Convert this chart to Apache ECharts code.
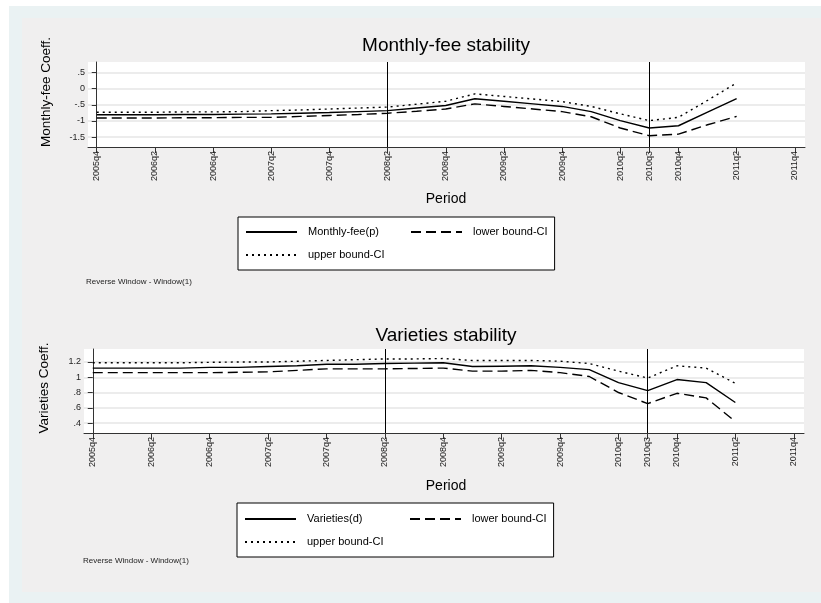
<!DOCTYPE html>
<html><head><meta charset="utf-8">
<script src="https://cdn.jsdelivr.net/npm/echarts@6/dist/echarts.min.js"></script>
<style>html,body{margin:0;padding:0;background:#fff}#c{width:821px;height:603px}</style>
</head><body><div id="c"></div><script>
// ---- data ----
const quarters = ['2005q4','2006q1','2006q2','2006q3','2006q4','2007q1','2007q2','2007q3','2007q4',
  '2008q1','2008q2','2008q3','2008q4','2009q1','2009q2','2009q3','2009q4','2010q1','2010q2','2010q3',
  '2010q4','2011q1','2011q2','2011q3','2011q4'];
const periods = ['2005q4','2006q1','2006q2','2006q3','2006q4','2007q1','2007q2','2007q3','2007q4',
  '2008q1','2008q2','2008q3','2008q4','2009q1','2009q2','2009q3','2009q4','2010q1','2010q2','2010q3',
  '2010q4','2011q1','2011q2'];
const xTickLabels = ['2005q4','2006q2','2006q4','2007q2','2007q4','2008q2','2008q4','2009q2','2009q4',
  '2010q2','2010q3','2010q4','2011q2','2011q4'];
const refPeriods = ['2008q2','2010q3'];

const feeCoef  = [-0.81,-0.81,-0.81,-0.80,-0.80,-0.79,-0.78,-0.76,-0.74,-0.71,-0.68,-0.60,-0.52,-0.31,-0.39,-0.47,-0.55,-0.71,-0.99,-1.22,-1.15,-0.73,-0.31];
const feeLower = [-0.91,-0.91,-0.91,-0.90,-0.90,-0.89,-0.89,-0.86,-0.83,-0.80,-0.76,-0.70,-0.63,-0.47,-0.55,-0.63,-0.71,-0.87,-1.22,-1.46,-1.41,-1.12,-0.86];
const feeUpper = [-0.73,-0.73,-0.73,-0.72,-0.72,-0.71,-0.68,-0.66,-0.63,-0.60,-0.57,-0.48,-0.39,-0.16,-0.24,-0.32,-0.40,-0.55,-0.78,-0.99,-0.89,-0.36,0.18];

const varCoef  = [1.12,1.12,1.12,1.12,1.13,1.13,1.14,1.15,1.17,1.17,1.18,1.185,1.19,1.14,1.145,1.15,1.13,1.10,0.93,0.825,0.97,0.93,0.67];
const varLower = [1.06,1.06,1.06,1.06,1.06,1.065,1.07,1.09,1.11,1.11,1.11,1.115,1.12,1.08,1.08,1.09,1.06,1.01,0.80,0.655,0.79,0.73,0.42];
const varUpper = [1.19,1.19,1.19,1.19,1.195,1.20,1.20,1.21,1.22,1.23,1.24,1.24,1.245,1.22,1.22,1.22,1.21,1.18,1.08,0.99,1.15,1.12,0.92];

const feeYTicks = [-1.5,-1,-0.5,0,0.5];
const varYTicks = [0.4,0.6,0.8,1,1.2];

// ---- helpers ----
const qi = p => quarters.indexOf(p);
const xTickVals = xTickLabels.map(qi);
const stataNum = v => String(+v.toFixed(2)).replace(/^(-?)0\./,'$1.');
const pts = vals => periods.map((p,i)=>[qi(p), vals[i]]);

const FONT = 'Liberation Sans, Arial, sans-serif';
const styles = {
  solid: {color:'#000', width:1.4, type:'solid'},
  dash:  {color:'#000', width:1.4, type:[10,5]},
  dot:   {color:'#000', width:1.4, type:[2,4]}
};

function xAxis(gi){
  return {
    type:'value', gridIndex:gi, min:-0.3, max:24.35,
    axisLine:{show:true, onZero:false, lineStyle:{color:'#333', width:1}},
    axisTick:{show:true, inside:false, length:6, customValues:xTickVals, lineStyle:{color:'#333'}},
    axisLabel:{customValues:xTickVals, rotate:90, fontSize:9, margin:4, color:'#222', fontFamily:FONT,
      formatter:v=>quarters[Math.round(v)]},
    splitLine:{show:false}
  };
}
function yAxis(gi,min,max,ticks){
  return {
    type:'value', gridIndex:gi, min:min, max:max,
    axisLine:{show:true, lineStyle:{color:'#333', width:1}},
    axisTick:{show:true, length:5, customValues:ticks, lineStyle:{color:'#333'}},
    axisLabel:{customValues:ticks, fontSize:9, margin:3, color:'#222', fontFamily:FONT, formatter:v=>stataNum(v)},
    splitLine:{show:true, lineStyle:{color:'#e6e6e6', width:1.5}}
  };
}
function series(gi, name, vals, ls, withRef){
  const s = {type:'line', name:name, xAxisIndex:gi, yAxisIndex:gi, data:pts(vals),
    symbol:'none', lineStyle:ls, itemStyle:{color:'#000'}, silent:true};
  if(withRef){
    s.markLine = {silent:true, symbol:['none','none'], label:{show:false},
      lineStyle:{color:'#000', width:1, type:'solid'},
      data: refPeriods.map(p=>({xAxis:qi(p)}))};
  }
  return s;
}
function legend(first, left, top, padding){
  return {
    left:left, top:top, width:305, orient:'horizontal',
    itemWidth:51, itemHeight:14, itemGap:9, padding:padding,
    backgroundColor:'#fff', borderColor:'#000', borderWidth:1, borderRadius:0,
    itemStyle:{opacity:0},
    formatter: name => (name === 'lower bound-CI' ? '{n|' : '{w|') + name + '}',
    textStyle:{fontSize:11, color:'#000', fontFamily:FONT,
      rich:{
        w:{width:93, height:14, lineHeight:14, padding:[0,0,0,6], fontSize:11, fontFamily:FONT, color:'#000'},
        n:{width:74, height:14, lineHeight:14, padding:[0,0,0,6], fontSize:11, fontFamily:FONT, color:'#000'}
      }},
    data:[first, 'lower bound-CI', 'upper bound-CI']
  };
}
function txt(x,y,t,size,extra){
  const el = {type:'text', x:x, y:y, z:100, style:{text:t, fontSize:size, fontFamily:FONT, fill:'#000',
    textAlign:'center', textVerticalAlign:'middle'}};
  if(extra){ if(extra.rotation!=null) el.rotation = extra.rotation; if(extra.style) Object.assign(el.style, extra.style); }
  return el;
}

const chart = echarts.init(document.getElementById('c'), null, {renderer:'canvas'});
chart.setOption({
  animation:false,
  backgroundColor:'#fff',
  grid:[
    {left:88, top:62, width:717, height:85, show:true, backgroundColor:'#fff', borderWidth:0},
    {left:84, top:349, width:720, height:84, show:true, backgroundColor:'#fff', borderWidth:0}
  ],
  xAxis:[xAxis(0), xAxis(1)],
  yAxis:[yAxis(0,-1.81,0.83,feeYTicks), yAxis(1,0.27,1.37,varYTicks)],
  legend:[
    legend('Monthly-fee(p)',238,217,[8,7,8,7]),
    legend('Varieties(d)',237,503,[9,7,8,7])
  ],
  series:[
    series(0,'Monthly-fee(p)',feeCoef,styles.solid,true),
    series(0,'lower bound-CI',feeLower,styles.dash,false),
    series(0,'upper bound-CI',feeUpper,styles.dot,false),
    series(1,'Varieties(d)',varCoef,styles.solid,true),
    series(1,'lower bound-CI',varLower,styles.dash,false),
    series(1,'upper bound-CI',varUpper,styles.dot,false)
  ],
  graphic:[
    {type:'rect', z:-100, shape:{x:9,y:6,width:812,height:597}, style:{fill:'#eaf2f3'}},
    {type:'rect', z:-99, shape:{x:22,y:18,width:799,height:574}, style:{fill:'#f0efef'}},
    txt(446,46,'Monthly-fee stability',19),
    txt(446,336,'Varieties stability',19),
    txt(446,199,'Period',14),
    txt(446,486,'Period',14),
    txt(46,92,'Monthly-fee Coeff.',13.5,{rotation:Math.PI/2}),
    txt(44,388,'Varieties Coeff.',13.5,{rotation:Math.PI/2}),
    txt(86,282,'Reverse Window - Window(1)',8,{style:{fill:'#222',textAlign:'left'}}),
    txt(83,561,'Reverse Window - Window(1)',8,{style:{fill:'#222',textAlign:'left'}})
  ]
});
</script></body></html>
